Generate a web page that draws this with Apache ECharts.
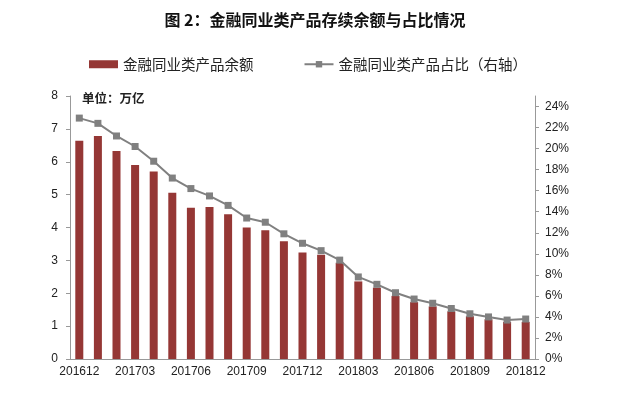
<!DOCTYPE html>
<html>
<head>
<meta charset="utf-8">
<script src="https://cdn.jsdelivr.net/npm/echarts@6/dist/echarts.min.js"></script>
<style>
    html, body { margin: 0; padding: 0; background: #fff; }
    #chart { width: 630px; height: 398px; }
</style>
</head>
<body>
<div id="chart"></div>
<script>
// months 201612 -> 201812
const months = [
    '201612', '201701', '201702', '201703', '201704', '201705', '201706',
    '201707', '201708', '201709', '201710', '201711', '201712', '201801',
    '201802', '201803', '201804', '201805', '201806', '201807', '201808',
    '201809', '201810', '201811', '201812'
]
// 余额, 万亿
const balance = [
    6.64, 6.78, 6.33, 5.90, 5.70, 5.06, 4.60, 4.62, 4.40, 4.00, 3.92, 3.58, 3.24,
    3.17, 2.93, 2.36, 2.17, 1.92, 1.73, 1.60, 1.45, 1.30, 1.21, 1.13, 1.13
]
// 占比, %
const share = [
    22.9, 22.4, 21.2, 20.2, 18.8, 17.2, 16.2, 15.5, 14.6, 13.4, 13.0, 11.9, 11.0,
    10.3, 9.4, 7.8, 7.1, 6.3, 5.7, 5.3, 4.8, 4.3, 4.0, 3.7, 3.8
]

const font = '"Noto Sans CJK SC", "Liberation Sans", sans-serif'
const numFont = '"Liberation Sans", Arial, sans-serif'
const chart = echarts.init(document.getElementById('chart'))

chart.setOption({
    animation: false,
    textStyle: { fontFamily: font },
    title: {
        text: '图 2：金融同业类产品存续余额与占比情况',
        left: 'center',
        top: 7,
        textStyle: { fontSize: 16, fontWeight: 'bold', color: '#111', fontFamily: font },
    },
    legend: {
        top: 52,
        left: 84,
        itemGap: 50,
        itemWidth: 29,
        itemHeight: 8,
        textStyle: { fontSize: 14.5, color: '#222', fontFamily: font },
        data: [
            { name: '金融同业类产品余额', icon: 'rect' },
            { name: '金融同业类产品占比（右轴）' },
        ],
    },
    graphic: [{
        type: 'text',
        left: 82,
        top: 92,
        style: { text: '单位：万亿', fontSize: 12.5, fontWeight: 'bold', fill: '#222', fontFamily: font },
    }],
    grid: { left: 70, right: 95, top: 96, bottom: 39 },
    xAxis: {
        type: 'category',
        data: months,
        boundaryGap: true,
        axisLine: { lineStyle: { color: '#999' } },
        axisTick: { interval: 2, length: 4, lineStyle: { color: '#999' } },
        axisLabel: { interval: 2, fontSize: 12, color: '#222', margin: 7, fontFamily: numFont },
    },
    yAxis: [
        {
            type: 'value',
            min: 0,
            max: 8,
            interval: 1,
            splitLine: { show: false },
            axisLine: { show: true, lineStyle: { color: '#999' } },
            axisTick: { show: true, length: 4, lineStyle: { color: '#999' } },
            axisLabel: { fontSize: 12, color: '#222', margin: 12, fontFamily: numFont },
        },
        {
            type: 'value',
            min: 0,
            max: 25,
            interval: 2,
            splitLine: { show: false },
            axisLine: { show: true, lineStyle: { color: '#999' } },
            axisTick: { show: true, length: 4, lineStyle: { color: '#999' } },
            axisLabel: {
                fontSize: 12, color: '#222', margin: 10, fontFamily: numFont,
                showMaxLabel: false, formatter: '{value}%',
            },
        },
    ],
    series: [
        {
            name: '金融同业类产品余额',
            type: 'bar',
            data: balance,
            barWidth: 8,
            itemStyle: { color: '#953735' },
        },
        {
            name: '金融同业类产品占比（右轴）',
            type: 'line',
            yAxisIndex: 1,
            data: share,
            symbol: 'rect',
            symbolSize: 7,
            lineStyle: { color: '#808080', width: 2 },
            itemStyle: { color: '#808080' },
        },
    ],
})
</script>
</body>
</html>
